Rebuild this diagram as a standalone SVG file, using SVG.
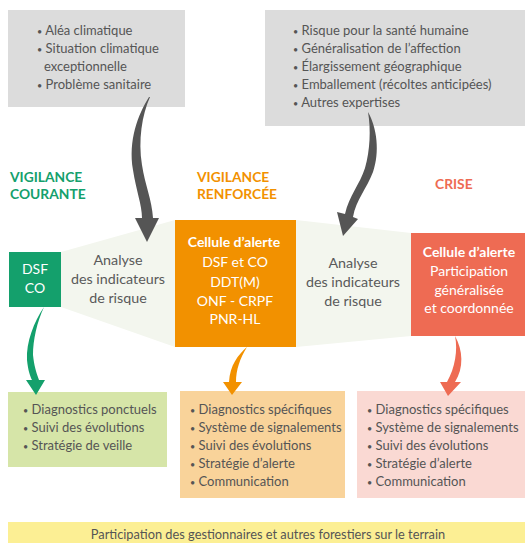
<svg xmlns="http://www.w3.org/2000/svg" width="525" height="543" viewBox="0 0 525 543">
  <style>
    text { font-family: Lato, "Open Sans", "Liberation Sans", sans-serif; }
    .list { font-size: 13px; fill: #555555; }
    .dot { font-size: 9px; }
    .foot { font-size: 12.8px; fill: #555555; text-anchor: middle; }
    .mid { font-size: 14.3px; fill: #5a5a5a; text-anchor: middle; }
    .inbox { font-size: 14px; fill: #ffffff; text-anchor: middle; }
    .inbox-b { font-size: 14px; fill: #ffffff; text-anchor: middle; font-weight: bold; }
    .head { font-size: 13.8px; font-weight: bold; }
    .gray-box { fill: #dcdcdc; }
    .band { fill: #f3f6ee; }
  </style>

  <rect width="525" height="543" fill="#ffffff"/>

  <!-- context boxes -->
  <g id="factors-left">
    <rect class="gray-box" x="8" y="10" width="177" height="97"/>
    <text class="list" x="37" y="35"><tspan class="dot">•</tspan> Aléa climatique</text>
    <text class="list" x="37" y="53"><tspan class="dot">•</tspan> Situation climatique</text>
    <text class="list" x="44" y="71">exceptionnelle</text>
    <text class="list" x="37" y="89"><tspan class="dot">•</tspan> Problème sanitaire</text>
  </g>
  <g id="factors-right">
    <rect class="gray-box" x="265" y="10" width="260" height="116"/>
    <text class="list" x="293" y="35"><tspan class="dot">•</tspan> Risque pour la santé humaine</text>
    <text class="list" x="293" y="53"><tspan class="dot">•</tspan> Généralisation de l’affection</text>
    <text class="list" x="293" y="71"><tspan class="dot">•</tspan> Élargissement géographique</text>
    <text class="list" x="293" y="89"><tspan class="dot">•</tspan> Emballement (récoltes anticipées)</text>
    <text class="list" x="293" y="107"><tspan class="dot">•</tspan> Autres expertises</text>
  </g>

  <!-- phase headings -->
  <g id="phase-courante">
    <text class="head" x="10" y="182" fill="#14a06c">VIGILANCE</text>
    <text class="head" x="10" y="199" fill="#14a06c">COURANTE</text>
  </g>
  <g id="phase-renforcee">
    <text class="head" x="197" y="182" fill="#f29100">VIGILANCE</text>
    <text class="head" x="197" y="199" fill="#f29100">RENFORCÉE</text>
  </g>
  <g id="phase-crise">
    <text class="head" x="435" y="189" fill="#ee6b53">CRISE</text>
  </g>

  <!-- analysis bands between the stages -->
  <g id="analyse-1">
    <polygon class="band" points="61,252 175,220 175,347 61,307"/>
    <text class="mid" x="118" y="265">Analyse</text>
    <text class="mid" x="118" y="284">des indicateurs</text>
    <text class="mid" x="118" y="303">de risque</text>
  </g>
  <g id="analyse-2">
    <polygon class="band" points="296,220 411,233 411,336 296,347"/>
    <text class="mid" x="353" y="268">Analyse</text>
    <text class="mid" x="353" y="287">des indicateurs</text>
    <text class="mid" x="353" y="306">de risque</text>
  </g>

  <!-- stage boxes -->
  <g id="stage-courante">
    <rect x="9" y="252" width="52" height="55" fill="#14a06c"/>
    <text class="inbox" x="35" y="274">DSF</text>
    <text class="inbox" x="35" y="293">CO</text>
  </g>
  <g id="stage-renforcee">
    <rect x="175" y="220" width="121" height="127" fill="#f29100"/>
    <text class="inbox-b" x="234" y="247">Cellule d’alerte</text>
    <text class="inbox" x="235" y="267">DSF et CO</text>
    <text class="inbox" x="235" y="287">DDT(M)</text>
    <text class="inbox" x="235" y="306">ONF - CRPF</text>
    <text class="inbox" x="235" y="324">PNR-HL</text>
  </g>
  <g id="stage-crise">
    <rect x="411" y="233" width="114" height="103" fill="#ee6b53"/>
    <text class="inbox-b" x="469" y="257">Cellule d’alerte</text>
    <text class="inbox" x="469" y="276">Participation</text>
    <text class="inbox" x="469" y="295">généralisée</text>
    <text class="inbox" x="469" y="313">et coordonnée</text>
  </g>

  <!-- action lists -->
  <g id="actions-courante">
    <rect x="8" y="392" width="159" height="75" fill="#d6e5a8"/>
    <text class="list" x="23" y="414"><tspan class="dot">•</tspan> Diagnostics ponctuels</text>
    <text class="list" x="23" y="432"><tspan class="dot">•</tspan> Suivi des évolutions</text>
    <text class="list" x="23" y="450"><tspan class="dot">•</tspan> Stratégie de veille</text>
  </g>
  <g id="actions-renforcee">
    <rect x="180" y="391" width="165" height="107" fill="#f9d39a"/>
    <text class="list" x="190" y="414"><tspan class="dot">•</tspan> Diagnostics spécifiques</text>
    <text class="list" x="190" y="432"><tspan class="dot">•</tspan> Système de signalements</text>
    <text class="list" x="190" y="450"><tspan class="dot">•</tspan> Suivi des évolutions</text>
    <text class="list" x="190" y="468"><tspan class="dot">•</tspan> Stratégie d’alerte</text>
    <text class="list" x="190" y="486"><tspan class="dot">•</tspan> Communication</text>
  </g>
  <g id="actions-crise">
    <rect x="357" y="391" width="168" height="107" fill="#fad9d3"/>
    <text class="list" x="367" y="414"><tspan class="dot">•</tspan> Diagnostics spécifiques</text>
    <text class="list" x="367" y="432"><tspan class="dot">•</tspan> Système de signalements</text>
    <text class="list" x="367" y="450"><tspan class="dot">•</tspan> Suivi des évolutions</text>
    <text class="list" x="367" y="468"><tspan class="dot">•</tspan> Stratégie d’alerte</text>
    <text class="list" x="367" y="486"><tspan class="dot">•</tspan> Communication</text>
  </g>

  <g id="terrain">
    <rect x="8" y="522" width="517" height="21" fill="#fcef94"/>
    <text class="foot" x="268" y="539">Participation des gestionnaires et autres forestiers sur le terrain</text>
  </g>

  <!-- tapered curved arrows -->
  <g id="connectors">
    <path fill="#555555" d="M149,97 C138,115 128,140 133,170 C136,190 142,205 142,218 L135,218 L147,242 L159,218 L153,218 C152,200 145,185 142,165 C138,140 142,115 150,97 Z"/>
    <path fill="#555555" d="M368,112 C377,128 380,152 373,172 C367,188 356,200 353,217 L358,219 L343,236 L337,212 L345,214 C349,196 360,184 365,168 C370,150 371,130 368,112 Z"/>
    <path fill="#14a06c" d="M44,307 C34,322 26,342 27,360 C28,370 30,376 32,380 L26,380 L36,395 L45,380 L39,380 C36,372 34,365 33,355 C33,340 37,322 44,307 Z"/>
    <path fill="#f29100" d="M247,347 C238,355 230,365 229,382 L223,382 L232,395 L242,382 L236,382 C236,370 240,358 247,347 Z"/>
    <path fill="#ee6b53" d="M455,336 C463,350 464,368 455,382 L461,382 L448,396 L440,382 L447,382 C455,368 458,350 455,336 Z"/>
  </g>
</svg>
